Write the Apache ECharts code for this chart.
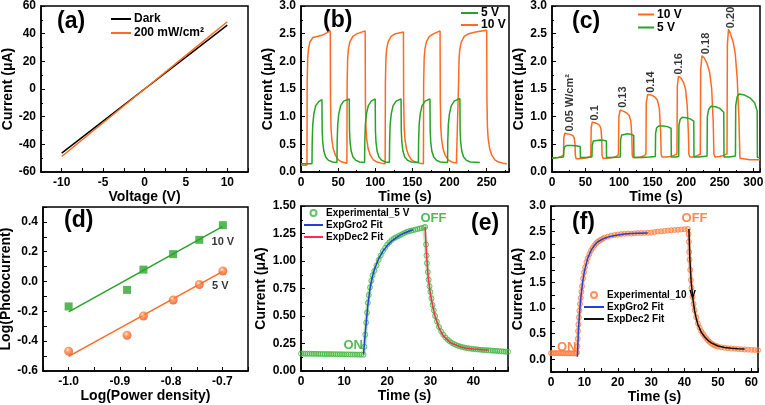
<!DOCTYPE html>
<html><head><meta charset="utf-8">
<script src="https://cdn.jsdelivr.net/npm/echarts@6/dist/echarts.min.js"></script>
<style>html,body{margin:0;padding:0;background:#fff}#c{width:765px;height:405px}</style>
</head><body><div id="c"></div><script>
// ---------- (a) I-V ----------
const aVolt = [-10, -5, 0, 5, 10];
const aDark = [-46.4, -23.2, 0, 23.1, 46.2];
const aLight = [-48.8, -24.4, 0, 24.3, 48.6];
// ---------- (b) switching at 5 V / 10 V ----------
const bT10 = [0,8,8.3,9,10,12,16,22,28,34,39.4,39.7,40.4,41.4,43.4,46.4,50.4,55.4,61.8,62.1,62.8,63.8,65.8,69.8,75.8,86.4,86.7,87.4,88.4,90.4,93.4,97.4,102.4,108.4,113.3,113.6,114.3,115.3,117.3,121.3,127.3,137.9,138.2,138.9,139.9,141.9,144.9,148.9,153.9,159.9,164.8,165.1,165.8,166.8,168.8,172.8,178.8,187.2,187.5,188.2,189.2,191.2,194.2,198.2,203.2,209.2,211.8,212.1,212.8,213.8,215.8,219.8,225.8,235,250,250.3,251,252,254,257,261,266,272,277];
const bI10 = [0.12,0.12,1.6,2.05,2.22,2.35,2.43,2.45,2.47,2.51,2.55,1.3,0.8,0.6,0.42,0.3,0.22,0.18,0.16,1.6,2.05,2.22,2.35,2.45,2.5,2.55,1.3,0.8,0.6,0.42,0.3,0.22,0.18,0.16,0.15,1.6,2.05,2.22,2.35,2.45,2.5,2.53,1.3,0.8,0.6,0.42,0.3,0.22,0.18,0.16,0.15,1.6,2.05,2.22,2.35,2.45,2.5,2.55,1.3,0.8,0.6,0.42,0.3,0.22,0.18,0.16,0.15,1.6,2.05,2.22,2.35,2.45,2.5,2.53,2.56,1.3,0.8,0.6,0.42,0.3,0.22,0.18,0.16,0.15];
const bT5 = [0,14.8,15.1,15.8,17.3,19.8,23.8,28.2,28.5,29.2,30.7,33.2,37.2,42.2,48.4,48.7,49.4,50.9,53.4,57.4,65,65.3,66,67.5,70,74,79,85.6,85.9,86.6,88.1,90.6,94.6,99.9,100.2,100.9,102.4,104.9,108.9,113.9,119,119.3,120,121.5,124,128,134.7,135,135.7,137.2,139.7,143.7,148.7,158,158.3,159,160.5,163,167,173.6,173.9,174.6,176.1,178.6,182.6,187.6,197.3,197.6,198.3,199.8,202.3,206.3,213.9,214.2,214.9,216.4,218.9,222.9,227.9,240.8];
const bI5 = [0.15,0.15,0.55,0.85,1.05,1.2,1.27,1.31,0.75,0.55,0.38,0.27,0.21,0.18,0.17,0.55,0.85,1.05,1.2,1.28,1.32,0.75,0.55,0.38,0.27,0.21,0.18,0.17,0.55,0.85,1.05,1.2,1.28,1.32,0.75,0.55,0.38,0.27,0.21,0.18,0.17,0.55,0.85,1.05,1.2,1.28,1.32,0.75,0.55,0.38,0.27,0.21,0.18,0.17,0.55,0.85,1.05,1.2,1.28,1.32,0.75,0.55,0.38,0.27,0.21,0.18,0.17,0.55,0.85,1.05,1.2,1.28,1.33,0.75,0.55,0.38,0.27,0.21,0.18,0.17];
// ---------- (c) power dependence ----------
const cT10 = [0,8,14,17.2,17.6,19,22,27,31,33,34.3,34.8,36,40,48,54,57.8,58.4,60,64,68,71,73,74.1,74.6,76,82,90,96,99,99.7,101.5,106,111,115,117.5,119,119.6,121,126,132,137,140,140.5,142.5,148,153,157,160,162,162.7,164,170,176,182,186.2,186.8,188.5,192,196,199,201.5,203.3,204,205.5,210,215,221,221.6,223.5,227,231,235,238,240.3,241.3,243,250,256,260.8,261.4,263,266,270,273,276,278.5,280.1,282,295,310];
const cI10 = [0.25,0.26,0.28,0.31,0.62,0.70,0.69,0.68,0.66,0.62,0.5,0.3,0.24,0.24,0.25,0.26,0.29,0.8,0.9,0.89,0.87,0.84,0.78,0.6,0.3,0.25,0.25,0.26,0.28,0.31,1.0,1.12,1.1,1.07,1.02,0.92,0.65,0.3,0.26,0.26,0.27,0.29,0.32,1.25,1.4,1.39,1.36,1.3,1.15,0.7,0.32,0.27,0.27,0.28,0.3,0.33,1.55,1.73,1.7,1.62,1.5,1.2,0.7,0.32,0.27,0.27,0.29,0.32,1.85,2.1,2.06,1.96,1.8,1.5,0.9,0.32,0.27,0.28,0.3,0.33,2.3,2.58,2.5,2.35,2.15,1.7,1.0,0.25,0.22,0.22,0.22];
const cT5 = [0,10,17.2,17.6,19,22,30,38,42,42.4,50,59.5,59.9,61.5,64,72,78,81,81.3,90,101.8,102.2,103.8,106.5,113,118,121.8,122.1,135,145,154,154.4,156,159,166,172,177.5,177.8,184,188.8,189.2,191,194,200,206,211.3,211.6,220,231.1,231.5,233.5,237,244,250,256,256.3,264,273.4,273.8,276,279,287,295,302,305.8,306.1,310];
const cI5 = [0.25,0.26,0.27,0.4,0.46,0.48,0.48,0.47,0.46,0.26,0.26,0.27,0.48,0.56,0.58,0.58,0.57,0.56,0.26,0.26,0.27,0.58,0.67,0.69,0.69,0.68,0.66,0.26,0.26,0.27,0.28,0.7,0.8,0.83,0.83,0.82,0.79,0.27,0.27,0.28,0.85,0.95,0.99,0.98,0.96,0.92,0.27,0.27,0.29,1.0,1.13,1.19,1.18,1.15,1.08,0.27,0.27,0.29,1.2,1.36,1.41,1.39,1.34,1.25,1.1,0.26,0.26];
const cLabT = [27.4, 64.7, 106, 147.8, 189, 228.9, 266];
const cLabV = [0.73, 0.93, 1.16, 1.43, 1.76, 2.13, 2.6];
const cLabText = ['0.05 W/cm²', '0.1', '0.13', '0.14', '0.16', '0.18', '0.20'];
// ---------- (d) log-log ----------
const dLogP = [-1.0, -0.886, -0.854, -0.796, -0.745, -0.699];
const d10 = [-0.167, -0.056, 0.08, 0.184, 0.28, 0.378];
const d5 = [-0.467, -0.36, -0.231, -0.124, -0.02, 0.071];
const dFitX = [-1.0, -0.7];
const dFit10 = [-0.204, 0.369];
const dFit5 = [-0.502, 0.067];
const dLabX = [-0.699, -0.704];
const dLabY = [0.267, -0.031];
const dLabText = ['10 V', '5 V'];
// ---------- (e) 5 V fit ----------
const eT = [0,0.5,1,1.5,2,2.5,3,3.5,4,4.5,5,5.5,6,6.5,7,7.5,8,8.5,9,9.5,10,10.5,11,11.5,12,12.5,13,13.5,14,14.5,14.7,14.9,15.1,15.3,15.5,15.7,16,16.3,16.6,17,17.5,18,18.5,19,19.5,20,20.5,21,21.5,22,22.5,23,23.5,24,24.5,25,25.5,26,26.5,27,27.5,28,28.5,28.8,29,29.1,29.2,29.4,29.6,29.8,30,30.25,30.5,30.8,31.1,31.5,32,32.5,33,33.5,34,34.5,35,35.5,36,36.5,37,37.5,38,38.5,39,39.5,40,40.5,41,41.5,42,42.5,43,43.5,44,44.5,45,45.5,46,46.5,47,47.5,48];
const eI = [0.158,0.158,0.157,0.157,0.157,0.156,0.156,0.156,0.155,0.155,0.155,0.154,0.154,0.154,0.153,0.153,0.153,0.152,0.152,0.152,0.151,0.151,0.151,0.150,0.150,0.150,0.149,0.149,0.149,0.148,0.22,0.33,0.44,0.53,0.62,0.69,0.76,0.82,0.87,0.91,0.96,1.01,1.05,1.09,1.12,1.15,1.17,1.19,1.205,1.215,1.225,1.235,1.245,1.255,1.265,1.27,1.275,1.28,1.285,1.29,1.295,1.3,1.305,1.31,1.15,1.05,0.98,0.9,0.83,0.77,0.72,0.66,0.6,0.55,0.5,0.45,0.4,0.36,0.33,0.305,0.285,0.27,0.255,0.245,0.236,0.228,0.222,0.217,0.212,0.208,0.205,0.202,0.2,0.198,0.196,0.194,0.192,0.19,0.189,0.188,0.186,0.185,0.183,0.182,0.18,0.179,0.177,0.176,0.175];
const eGroT = [14.5,14.7,15,15.5,16,16.5,17,18,19,20,21,22,23,24,25,26];
const eGroI = [0.15,0.25,0.39,0.6,0.75,0.85,0.92,1.02,1.09,1.14,1.18,1.21,1.235,1.255,1.27,1.285];
const eDecT = [28.8,29,29.5,30,30.5,31,32,33,34,35,36,37,38,39,40,41,42,43.5];
const eDecI = [1.31,1.12,0.85,0.7,0.6,0.51,0.39,0.32,0.28,0.25,0.235,0.22,0.21,0.205,0.2,0.197,0.194,0.19];
const eAnnT = [12.1, 30.7];
const eAnnV = [0.235, 1.39];
const eAnnText = ['ON', 'OFF'];
// ---------- (f) 10 V fit ----------
const fT = [0,0.5,1,1.5,2,2.5,3,3.5,4,4.5,5,5.5,6,6.5,7,7.5,7.8,7.9,8.0,8.1,8.2,8.35,8.5,8.7,8.9,9.1,9.3,9.6,9.9,10.2,10.6,11,11.5,12,12.5,13,13.5,14,14.5,15,15.5,16,17,18,19,20,21,22,23,24,25,26,27,28,29,30,31,32,33,34,35,36,37,38,39,40,41,41.2,41.3,41.4,41.5,41.7,41.9,42.1,42.4,42.7,43,43.5,44,44.5,45,45.5,46,46.5,47,47.5,48,48.5,49,49.5,50,51,52,53,54,55,56,57,58,59,60,61,62];
const fI = [0.12,0.12,0.12,0.119,0.119,0.118,0.118,0.117,0.117,0.116,0.116,0.115,0.115,0.114,0.114,0.113,0.13,0.25,0.4,0.55,0.68,0.82,0.95,1.08,1.2,1.32,1.43,1.58,1.7,1.8,1.9,1.98,2.06,2.13,2.18,2.23,2.27,2.3,2.32,2.34,2.36,2.38,2.4,2.42,2.43,2.44,2.45,2.455,2.46,2.46,2.465,2.47,2.47,2.47,2.475,2.48,2.49,2.5,2.505,2.51,2.52,2.525,2.53,2.535,2.54,2.545,2.55,2.45,2.3,2.1,1.95,1.75,1.55,1.4,1.22,1.08,0.96,0.82,0.7,0.62,0.55,0.5,0.45,0.41,0.37,0.34,0.31,0.29,0.27,0.26,0.245,0.232,0.224,0.216,0.21,0.205,0.2,0.196,0.192,0.188,0.184,0.18,0.177];
const fGroT = [7.9,8.2,8.6,9,9.5,10,11,12,13,14,16,18,20,22,24,26,29];
const fGroI = [0.05,0.55,0.95,1.25,1.52,1.72,1.98,2.13,2.23,2.3,2.37,2.41,2.43,2.45,2.46,2.465,2.47];
const fDecT = [41.3,41.6,42,42.5,43,43.5,44,45,46,47,48,50,52,54,56,58];
const fDecI = [2.55,1.95,1.5,1.18,0.95,0.8,0.68,0.53,0.44,0.37,0.32,0.26,0.23,0.215,0.205,0.2];
const fAnnT = [4.7, 43];
const fAnnV = [0.24, 2.75];
const fAnnText = ['ON', 'OFF'];

// ---------- styling / option building ----------
const FONT = '"Liberation Sans", Arial, sans-serif';
const ORANGE = '#ff6a21', GREEN = '#27a327', BLUE = '#2440d8', RED = '#ff2a55';
const zip = (xs, ys) => xs.map((x, i) => [x, ys[i]]);
const fmt = (step, dec) => v => {
  const k = v / step;
  if (Math.abs(k - Math.round(k)) > 1e-6) return '';
  return dec == null ? String(Math.round(v * 1e6) / 1e6) : (Math.abs(v) < 1e-9 ? 0 : v).toFixed(dec);
};
function axis(idx, o) {
  return Object.assign({
    gridIndex: idx, type: 'value', scale: false,
    axisLine: { show: true, onZero: false, lineStyle: { color: '#000', width: 1.5 } },
    axisTick: { show: true, inside: true, length: 4, lineStyle: { color: '#000', width: 1 } },
    minorTick: { show: true, splitNumber: 2, length: 2, lineStyle: { color: '#000', width: 1 } },
    splitLine: { show: false }, minorSplitLine: { show: false },
    nameLocation: 'middle',
    nameTextStyle: { color: '#000', fontFamily: FONT, fontWeight: 'bold', fontSize: 14 },
    axisLabel: { color: '#000', fontFamily: FONT, fontWeight: 'bold', fontSize: 12, margin: 5, hideOverlap: false }
  }, o);
}
function withFmt(o, f, minorOff) {
  o.axisLabel = Object.assign({}, o.axisLabel, { formatter: f });
  if (minorOff) o.minorTick = Object.assign({}, o.minorTick, { show: false });
  return o;
}
function line(name, idx, xs, ys, color, w, z) {
  return { type: 'line', name, xAxisIndex: idx, yAxisIndex: idx, data: zip(xs, ys), showSymbol: false, symbol: 'none',
    lineStyle: { color, width: w || 1.5 }, itemStyle: { color }, z: z || 2, silent: true, animation: false };
}
function annot(idx, xs, ys, texts, label) {
  return { type: 'scatter', xAxisIndex: idx, yAxisIndex: idx, symbolSize: 1, itemStyle: { color: 'transparent' }, silent: true, z: 10,
    data: xs.map((x, i) => ({ value: [x, ys[i]], name: texts[i] })),
    label: Object.assign({ show: true, position: 'inside', formatter: '{b}', fontFamily: FONT, fontWeight: 'bold' }, label) };
}
const gridBase = { show: true, borderColor: '#000', borderWidth: 1.5, backgroundColor: 'transparent', containLabel: false, outerBoundsMode: 'none' };
const grids = [
  { left: 41, top: 6, width: 207, height: 166 },
  { left: 301, top: 6, width: 208, height: 166 },
  { left: 552, top: 6, width: 208, height: 166 },
  { left: 43, top: 207, width: 205, height: 164 },
  { left: 301, top: 206, width: 207, height: 165 },
  { left: 551, top: 206, width: 207, height: 166 }
].map(g => Object.assign({}, gridBase, g));

const xAxes = [
  withFmt(axis(0, { min: -12.5, max: 12.5, interval: 2.5, name: 'Voltage (V)', nameGap: 16 }), fmt(5), true),
  withFmt(axis(1, { min: 0, max: 280, interval: 50, name: 'Time (s)', nameGap: 16 }), fmt(50)),
  withFmt(axis(2, { min: 0, max: 310, interval: 50, name: 'Time (s)', nameGap: 16 }), fmt(50)),
  withFmt(axis(3, { min: -1.05, max: -0.65, interval: 0.05, name: 'Log(Power density)', nameGap: 17 }), fmt(0.1, 1), true),
  withFmt(axis(4, { min: 0, max: 48, interval: 5, name: 'Time (s)', nameGap: 18 }), fmt(10), true),
  withFmt(axis(5, { min: 0, max: 62, interval: 5, name: 'Time (s)', nameGap: 18 }), fmt(10), true)
];
const yAxes = [
  axis(0, { min: -60, max: 60, interval: 20, name: 'Current (μA)', nameGap: 18 }),
  withFmt(axis(1, { min: 0, max: 3, interval: 0.5, name: 'Current (μA)', nameGap: 22 }), fmt(0.5, 1)),
  withFmt(axis(2, { min: 0, max: 3, interval: 0.5, name: 'Current (μA)', nameGap: 21 }), fmt(0.5, 1)),
  withFmt(axis(3, { min: -0.6, max: 0.5, interval: 0.1, name: 'Log(Photocurrent)', nameGap: 25 }), fmt(0.2, 1), true),
  withFmt(axis(4, { min: 0, max: 1.5, interval: 0.25, name: 'Current (μA)', nameGap: 33 }), fmt(0.25, 2)),
  withFmt(axis(5, { min: -0.25, max: 3, interval: 0.25, name: 'Current (μA)', nameGap: 25 }), fmt(0.5, 1), true)
];

const ballGrad = { type: 'radial', x: 0.4, y: 0.35, r: 0.65, colorStops: [
  { offset: 0, color: '#ffe2cc' }, { offset: 0.35, color: '#ff8a4a' }, { offset: 1, color: '#e8531a' }] };

const series = [
  // (a)
  line('Dark', 0, aVolt, aDark, '#000', 1.5, 2),
  line('200 mW/cm²', 0, aVolt, aLight, ORANGE, 1.5, 3),
  // (b)
  line('10 V', 1, bT10, bI10, ORANGE, 1.5, 2),
  line('5 V', 1, bT5, bI5, GREEN, 1.5, 3),
  // (c)
  line('10 V', 2, cT10, cI10, ORANGE, 1.5, 2),
  line('5 V', 2, cT5, cI5, GREEN, 1.5, 3),
  annot(2, cLabT, cLabV, cLabText, { rotate: 90, align: 'left', verticalAlign: 'middle', fontSize: 11, color: '#000' }),
  // (d)
  line('fit10', 3, dFitX, dFit10, GREEN, 1.5, 2),
  line('fit5', 3, dFitX, dFit5, ORANGE, 1.5, 2),
  { type: 'scatter', name: 'pts10', xAxisIndex: 3, yAxisIndex: 3, data: zip(dLogP, d10), symbol: 'rect', symbolSize: 8,
    itemStyle: { color: '#2aa52a' }, z: 4, silent: true },
  { type: 'scatter', name: 'pts5', xAxisIndex: 3, yAxisIndex: 3, data: zip(dLogP, d5), symbol: 'circle', symbolSize: 9,
    itemStyle: { color: ballGrad }, z: 4, silent: true },
  annot(3, dLabX, dLabY, dLabText, { fontSize: 11, color: '#000', align: 'center', verticalAlign: 'middle' }),
  // (e)
  line('bandE', 4, eT, eI, 'rgba(70,190,70,0.35)', 4, 1),
  { type: 'scatter', name: 'Experimental_5 V', xAxisIndex: 4, yAxisIndex: 4, data: zip(eT, eI), symbol: 'circle', symbolSize: 5,
    itemStyle: { color: 'rgba(255,255,255,0)', borderColor: '#3cb83c', borderWidth: 1 }, z: 2, silent: true },
  line('ExpGro2 Fit', 4, eGroT, eGroI, BLUE, 1.5, 5),
  line('ExpDec2 Fit', 4, eDecT, eDecI, RED, 1.5, 5),
  annot(4, eAnnT, eAnnV, eAnnText, { fontSize: 13, color: '#2ca52c', align: 'center', verticalAlign: 'middle' }),
  // (f)
  line('bandF', 5, fT, fI, 'rgba(255,130,70,0.4)', 4, 1),
  { type: 'scatter', name: 'Experimental_10 V', xAxisIndex: 5, yAxisIndex: 5, data: zip(fT, fI), symbol: 'circle', symbolSize: 5,
    itemStyle: { color: 'rgba(255,180,140,0.25)', borderColor: '#ff7a3a', borderWidth: 1 }, z: 2, silent: true },
  line('ExpGro2 Fit ', 5, fGroT, fGroI, BLUE, 1.5, 5),
  line('ExpDec2 Fit ', 5, fDecT, fDecI, '#111', 1.5, 5),
  annot(5, fAnnT, fAnnV, fAnnText, { fontSize: 13, color: ORANGE, align: 'center', verticalAlign: 'middle' })
];

// legend entries: line items hide the default marker dot
const lineItem = n => ({ name: n, itemStyle: { opacity: 0 } });
function legend(left, top, items, lh, fs, iw, ih) {
  return { show: true, orient: 'vertical', left, top, data: items, itemGap: 0, itemWidth: iw, itemHeight: ih || 10,
    padding: 0, selectedMode: false,
    textStyle: { color: '#000', fontFamily: FONT, fontWeight: 'bold', fontSize: fs, lineHeight: lh, padding: [0, 0, 0, -2] } };
}
const legends = [
  legend(110, 12, [lineItem('Dark'), lineItem('200 mW/cm²')], 14, 12, 20),
  legend(460, 7, [lineItem('5 V'), lineItem('10 V')], 12, 12, 17),
  legend(637, 8, [lineItem('10 V'), lineItem('5 V')], 13, 12, 16),
  legend(303, 207, ['Experimental_5 V', lineItem('ExpGro2 Fit'), lineItem('ExpDec2 Fit')], 12, 10, 19, 6),
  legend(583, 289, ['Experimental_10 V', lineItem('ExpGro2 Fit '), lineItem('ExpDec2 Fit ')], 12, 10, 20, 6)
];

const panelText = (t, x, y) => ({ type: 'text', left: x, top: y, silent: true,
  style: { text: t, fill: '#000', font: 'bold 23px ' + FONT, textAlign: 'center', textVerticalAlign: 'middle' } });
const graphic = [
  panelText('(a)', 57, 10), panelText('(b)', 323, 9), panelText('(c)', 572, 10),
  panelText('(d)', 64, 209), panelText('(e)', 471, 212), panelText('(f)', 572, 211)
];

const chart = echarts.init(document.getElementById('c'), null, { renderer: 'canvas' });
chart.setOption({
  animation: false, backgroundColor: '#fff',
  textStyle: { fontFamily: FONT },
  grid: grids, xAxis: xAxes, yAxis: yAxes, series, legend: legends, graphic
});
</script></body></html>
